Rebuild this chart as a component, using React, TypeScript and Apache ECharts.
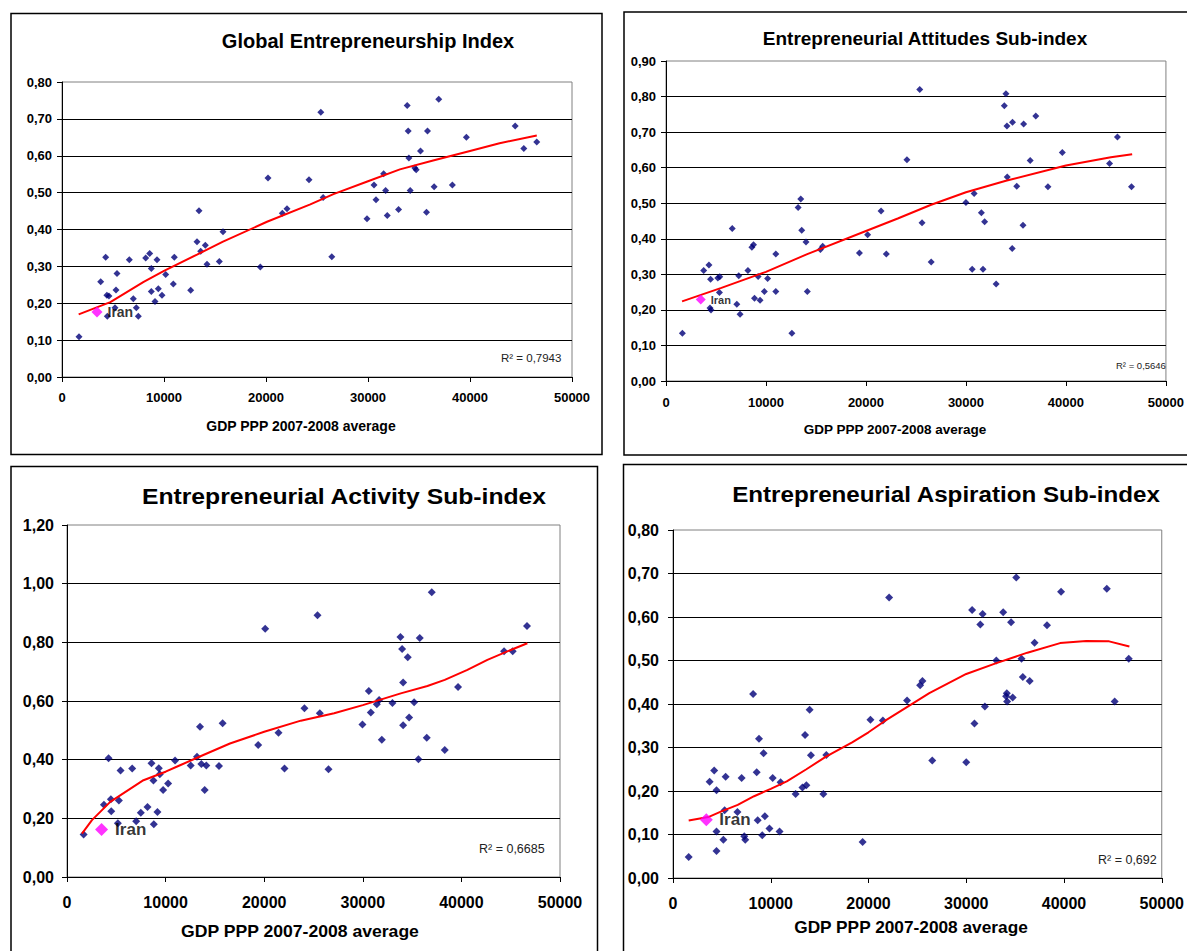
import React, { useEffect, useRef } from "react";
import * as echarts from "echarts";

// ---------- DATA ----------
const X_TICKS = [0, 10000, 20000, 30000, 40000, 50000];
const AXIS_NAME = "GDP PPP 2007-2008 average";

const titles = [
  "Global Entrepreneurship Index",
  "Entrepreneurial Attitudes Sub-index",
  "Entrepreneurial Activity Sub-index",
  "Entrepreneurial Aspiration Sub-index",
];
const r2Values = ["0,7943", "0,5646", "0,6685", "0,692"];
const yMaxes = [0.8, 0.9, 1.2, 0.8];
const yIntervals = [0.1, 0.1, 0.2, 0.1];

const geiPoints: [number, number][] = [
  [1667, 0.109], [3791, 0.258], [4281, 0.325], [4400, 0.222], [4600, 0.22], [4444, 0.165],
  [5196, 0.188], [5294, 0.236], [5392, 0.281], [6601, 0.318], [6993, 0.212], [7288, 0.188],
  [7484, 0.165], [8203, 0.323], [8595, 0.335], [8758, 0.294], [8758, 0.232], [9118, 0.205],
  [9314, 0.318], [9444, 0.239], [9804, 0.222], [10163, 0.278], [10915, 0.252], [11013, 0.325],
  [12614, 0.235], [13235, 0.367], [13431, 0.451], [13595, 0.341], [14052, 0.357], [14216, 0.306],
  [15425, 0.313], [15784, 0.394], [19444, 0.298], [20196, 0.54], [21601, 0.444], [22059, 0.456],
  [24216, 0.535], [25375, 0.718], [25603, 0.487], [26450, 0.326], [29902, 0.429], [30586, 0.521],
  [30782, 0.481], [31531, 0.551], [31726, 0.506], [31889, 0.438], [32997, 0.454], [33844, 0.736],
  [33941, 0.667], [34007, 0.594], [34137, 0.506], [34593, 0.567], [34723, 0.562], [35147, 0.613],
  [35733, 0.447], [35831, 0.667], [36482, 0.516], [36938, 0.753], [38274, 0.521], [39642, 0.65],
  [44430, 0.681], [45277, 0.62], [46547, 0.637],
];
const geiIran: [number, number] = [3431, 0.176];
const geiTrend: [number, number][] = [
  [1634, 0.17], [4739, 0.203], [8007, 0.258], [10000, 0.288], [13235, 0.332], [15784, 0.367],
  [20098, 0.421], [24346, 0.468], [26612, 0.496], [30000, 0.531], [33127, 0.563], [36384, 0.587],
  [40000, 0.613], [42899, 0.634], [46547, 0.655],
];

const attPoints: [number, number][] = [
  [1639, 0.134], [3770, 0.311], [4295, 0.326], [4459, 0.286], [4400, 0.205], [4500, 0.2],
  [5180, 0.29], [5377, 0.293], [5344, 0.249], [6623, 0.429], [7082, 0.216], [7279, 0.296],
  [7410, 0.188], [8197, 0.311], [8590, 0.376], [8754, 0.383], [8852, 0.233], [9213, 0.294],
  [9410, 0.227], [9836, 0.252], [10164, 0.288], [10984, 0.357], [10984, 0.252], [12590, 0.134],
  [13213, 0.488], [13475, 0.512], [13574, 0.424], [14000, 0.391], [14131, 0.252], [15443, 0.37],
  [15672, 0.379], [19344, 0.36], [20164, 0.411], [21508, 0.478], [22033, 0.357], [24098, 0.622],
  [25377, 0.82], [25607, 0.445], [26525, 0.335], [30000, 0.502], [30623, 0.314], [30820, 0.527],
  [31541, 0.473], [31705, 0.314], [31869, 0.448], [33016, 0.273], [33836, 0.774], [34000, 0.808],
  [34098, 0.717], [34131, 0.574], [34656, 0.728], [34623, 0.373], [35082, 0.548], [35705, 0.438],
  [35770, 0.723], [36426, 0.62], [36984, 0.745], [38197, 0.546], [39639, 0.643], [44361, 0.612],
  [45148, 0.686], [46557, 0.546],
];
const attIran: [number, number] = [3475, 0.229];
const attTrend: [number, number][] = [
  [1607, 0.224], [5541, 0.262], [10000, 0.307], [14066, 0.356], [20000, 0.422], [23180, 0.457],
  [26459, 0.495], [30000, 0.531], [34000, 0.563], [40000, 0.606], [44492, 0.629], [46623, 0.638],
];

const actPoints: [number, number][] = [
  [1686, 0.145], [3744, 0.246], [4216, 0.405], [4452, 0.265], [4486, 0.224], [5160, 0.183],
  [5261, 0.261], [5430, 0.363], [6610, 0.37], [7015, 0.19], [7487, 0.219], [8162, 0.239],
  [8567, 0.388], [8769, 0.329], [8803, 0.18], [9174, 0.222], [9309, 0.371], [9410, 0.35],
  [9747, 0.297], [10253, 0.319], [10961, 0.397], [12546, 0.38], [13187, 0.41], [13491, 0.512],
  [13626, 0.385], [13963, 0.297], [14131, 0.38], [15413, 0.378], [15784, 0.524], [19393, 0.45],
  [20101, 0.846], [21450, 0.492], [22057, 0.37], [24081, 0.575], [25405, 0.892], [25642, 0.558],
  [26520, 0.367], [29966, 0.52], [30608, 0.634], [30811, 0.561], [31419, 0.589], [31655, 0.603],
  [31926, 0.468], [33007, 0.593], [33818, 0.818], [33986, 0.777], [34088, 0.663], [34088, 0.517],
  [34561, 0.749], [34696, 0.544], [35203, 0.596], [35642, 0.401], [35777, 0.815], [36486, 0.475],
  [36993, 0.971], [38311, 0.433], [39662, 0.648], [44324, 0.77], [45203, 0.77], [46655, 0.856],
];
const actIran: [number, number] = [3508, 0.162];
const actTrend: [number, number][] = [
  [1518, 0.148], [2530, 0.194], [4384, 0.256], [7757, 0.33], [10000, 0.359], [11467, 0.381],
  [13828, 0.416], [16526, 0.455], [20000, 0.495], [23716, 0.533], [27095, 0.558], [30000, 0.586],
  [33851, 0.626], [36554, 0.651], [38311, 0.672], [40608, 0.706], [42635, 0.74], [45000, 0.774],
  [46689, 0.797],
];

const aspPoints: [number, number][] = [
  [1605, 0.048], [3746, 0.221], [4214, 0.247], [4448, 0.202], [4448, 0.107], [4448, 0.062],
  [5151, 0.088], [5284, 0.156], [5385, 0.233], [6589, 0.152], [7023, 0.23], [7291, 0.096],
  [7391, 0.088], [8194, 0.423], [8562, 0.243], [8662, 0.133], [8796, 0.32], [9130, 0.098],
  [9264, 0.287], [9398, 0.142], [9866, 0.114], [10201, 0.23], [10903, 0.107], [11003, 0.22],
  [12542, 0.193], [13244, 0.208], [13512, 0.329], [13645, 0.213], [13980, 0.387], [14114, 0.282],
  [15385, 0.193], [15686, 0.283], [19398, 0.083], [20201, 0.364], [21472, 0.362], [22107, 0.645],
  [23946, 0.408], [25284, 0.443], [25518, 0.453], [26522, 0.27], [30000, 0.266], [30602, 0.616],
  [30836, 0.355], [31438, 0.583], [31672, 0.607], [31906, 0.394], [33077, 0.5], [33779, 0.611],
  [34080, 0.418], [34147, 0.425], [34181, 0.406], [34582, 0.588], [34749, 0.415], [35117, 0.691],
  [35652, 0.504], [35786, 0.462], [36488, 0.453], [36990, 0.541], [38261, 0.581], [39699, 0.658],
  [44381, 0.665], [45184, 0.406], [46622, 0.504],
];
const aspIran: [number, number] = [3411, 0.134];
const aspTrend: [number, number][] = [
  [1605, 0.132], [3612, 0.14], [4950, 0.153], [6622, 0.168], [8294, 0.188], [10000, 0.205],
  [11639, 0.222], [13645, 0.25], [15652, 0.279], [18328, 0.312], [20000, 0.335], [21672, 0.361],
  [24013, 0.394], [26221, 0.425], [30000, 0.469], [33077, 0.494], [36254, 0.518], [39599, 0.54],
  [42274, 0.545], [44615, 0.544], [46689, 0.532],
];

const pointSets = [geiPoints, attPoints, actPoints, aspPoints];
const iranSets = [geiIran, attIran, actIran, aspIran];
const trendSets = [geiTrend, attTrend, actTrend, aspTrend];

// ---------- LAYOUT / STYLE ----------
const FONT = "Liberation Sans, Arial, sans-serif";
const layout = [
  {
    grid: { left: 62, top: 82, width: 510, height: 295 },
    border: { x: 11, y: 13.5, width: 591, height: 441 },
    title: { x: 368, y: 41, size: 20, scale: 1 },
    name: { x: 301, y: 426, size: 14, scale: 1 },
    r2: { x: 501, y: 358, size: 11.5 },
    tick: 13, yMargin: 10, xMargin: 14,
    sym: 7, iranSym: 11, iranFont: 14, iranWeight: "bold", iranDist: 5,
  },
  {
    grid: { left: 666, top: 61, width: 507, height: 320 },
    border: { x: 624, y: 12, width: 600, height: 443 },
    title: { x: 925, y: 38.5, size: 19, scale: 1 },
    name: { x: 895, y: 429, size: 13.5, scale: 1 },
    r2: { x: 1116, y: 365, size: 9.5 },
    tick: 13, yMargin: 10, xMargin: 15,
    sym: 7, iranSym: 10, iranFont: 11, iranWeight: "bold", iranDist: 5,
  },
  {
    grid: { left: 67, top: 525, width: 493, height: 352 },
    border: { x: 11, y: 466.5, width: 586.5, height: 520 },
    title: { x: 344, y: 497, size: 21.5, scale: 1.15 },
    name: { x: 300, y: 932, size: 16, scale: 1.1 },
    r2: { x: 479, y: 849, size: 12.5 },
    tick: 16, yMargin: 13, xMargin: 17,
    sym: 8, iranSym: 13, iranFont: 17, iranWeight: "bold", iranDist: 7,
  },
  {
    grid: { left: 673, top: 530, width: 497, height: 348 },
    border: { x: 623.5, y: 464.5, width: 600, height: 520 },
    title: { x: 946, y: 494.5, size: 22, scale: 1.1 },
    name: { x: 911, y: 928, size: 16, scale: 1.08 },
    r2: { x: 1098, y: 860, size: 12.5 },
    tick: 16, yMargin: 14, xMargin: 17,
    sym: 8, iranSym: 13, iranFont: 17, iranWeight: "bold", iranDist: 6.5,
  },
];

const fmtY = (v: number) => v.toFixed(2).replace(".", ",");

function buildOption() {
  const grids: any[] = [];
  const xAxes: any[] = [];
  const yAxes: any[] = [];
  const series: any[] = [];
  const graphics: any[] = [];

  layout.forEach((L, i) => {
    grids.push({
      ...L.grid,
      show: true,
      borderColor: "#808080",
      borderWidth: 1,
      backgroundColor: "transparent",
      containLabel: false,
    });
    xAxes.push({
      type: "value",
      gridIndex: i,
      min: X_TICKS[0],
      max: X_TICKS[X_TICKS.length - 1],
      interval: X_TICKS[1] - X_TICKS[0],
      axisLine: { show: true, lineStyle: { color: "#000", width: 1 } },
      axisTick: { show: true, length: 5, inside: false, lineStyle: { color: "#000" } },
      splitLine: { show: false },
      axisLabel: {
        color: "#000",
        fontWeight: "bold",
        fontSize: L.tick,
        fontFamily: FONT,
        margin: L.xMargin,
        formatter: (v: number) => String(v),
      },
    });
    yAxes.push({
      type: "value",
      gridIndex: i,
      min: 0,
      max: yMaxes[i],
      interval: yIntervals[i],
      axisLine: { show: true, lineStyle: { color: "#000", width: 1 } },
      axisTick: { show: true, length: 5, inside: false, lineStyle: { color: "#000" } },
      splitLine: { show: true, showMaxLine: false, lineStyle: { color: "#000", width: 1 } },
      axisLabel: {
        color: "#000",
        fontWeight: "bold",
        fontSize: L.tick,
        fontFamily: FONT,
        margin: L.yMargin,
        formatter: fmtY,
      },
    });
    series.push({
      type: "scatter",
      xAxisIndex: i,
      yAxisIndex: i,
      symbol: "diamond",
      symbolSize: L.sym,
      itemStyle: { color: "#000078" },
      data: pointSets[i],
      z: 2,
    });
    series.push({
      type: "line",
      xAxisIndex: i,
      yAxisIndex: i,
      showSymbol: false,
      symbol: "none",
      smooth: false,
      lineStyle: { color: "#FF0000", width: 2 },
      data: trendSets[i],
      z: 3,
    });
    series.push({
      type: "scatter",
      xAxisIndex: i,
      yAxisIndex: i,
      symbol: "diamond",
      symbolSize: L.iranSym,
      itemStyle: { color: "#FF00FF" },
      data: [iranSets[i]],
      label: {
        show: true,
        formatter: "Iran",
        position: "right",
        distance: L.iranDist,
        color: "#000",
        fontSize: L.iranFont,
        fontWeight: L.iranWeight,
        fontFamily: FONT,
      },
      z: 4,
    });

    graphics.push({
      type: "rect",
      shape: L.border,
      style: { fill: "none", stroke: "#000", lineWidth: 1.5 },
      silent: true,
      z: 10,
    });
    graphics.push({
      type: "text",
      x: L.title.x,
      y: L.title.y,
      scaleX: L.title.scale,
      style: {
        text: titles[i],
        fill: "#000",
        font: `bold ${L.title.size}px ${FONT}`,
        textAlign: "center",
        textVerticalAlign: "middle",
      },
      z: 10,
    });
    graphics.push({
      type: "text",
      x: L.name.x,
      y: L.name.y,
      scaleX: L.name.scale,
      style: {
        text: AXIS_NAME,
        fill: "#000",
        font: `bold ${L.name.size}px ${FONT}`,
        textAlign: "center",
        textVerticalAlign: "middle",
      },
      z: 10,
    });
    graphics.push({
      type: "text",
      x: L.r2.x,
      y: L.r2.y,
      style: {
        text: `R² = ${r2Values[i]}`,
        fill: "#222",
        font: `${L.r2.size}px ${FONT}`,
        textAlign: "left",
        textVerticalAlign: "middle",
      },
      z: 10,
    });
  });

  return {
    animation: false,
    backgroundColor: "#fff",
    grid: grids,
    xAxis: xAxes,
    yAxis: yAxes,
    series,
    graphic: graphics,
  };
}

export default function App() {
  const ref = useRef<HTMLDivElement>(null);
  useEffect(() => {
    if (!ref.current) return;
    const chart = echarts.init(ref.current, undefined, { renderer: "svg" });
    chart.setOption(buildOption() as any);
    return () => chart.dispose();
  }, []);
  return (
    <div
      ref={ref}
      style={{ position: "absolute", left: 0, top: 0, width: 1187, height: 951, background: "#fff" }}
    />
  );
}
